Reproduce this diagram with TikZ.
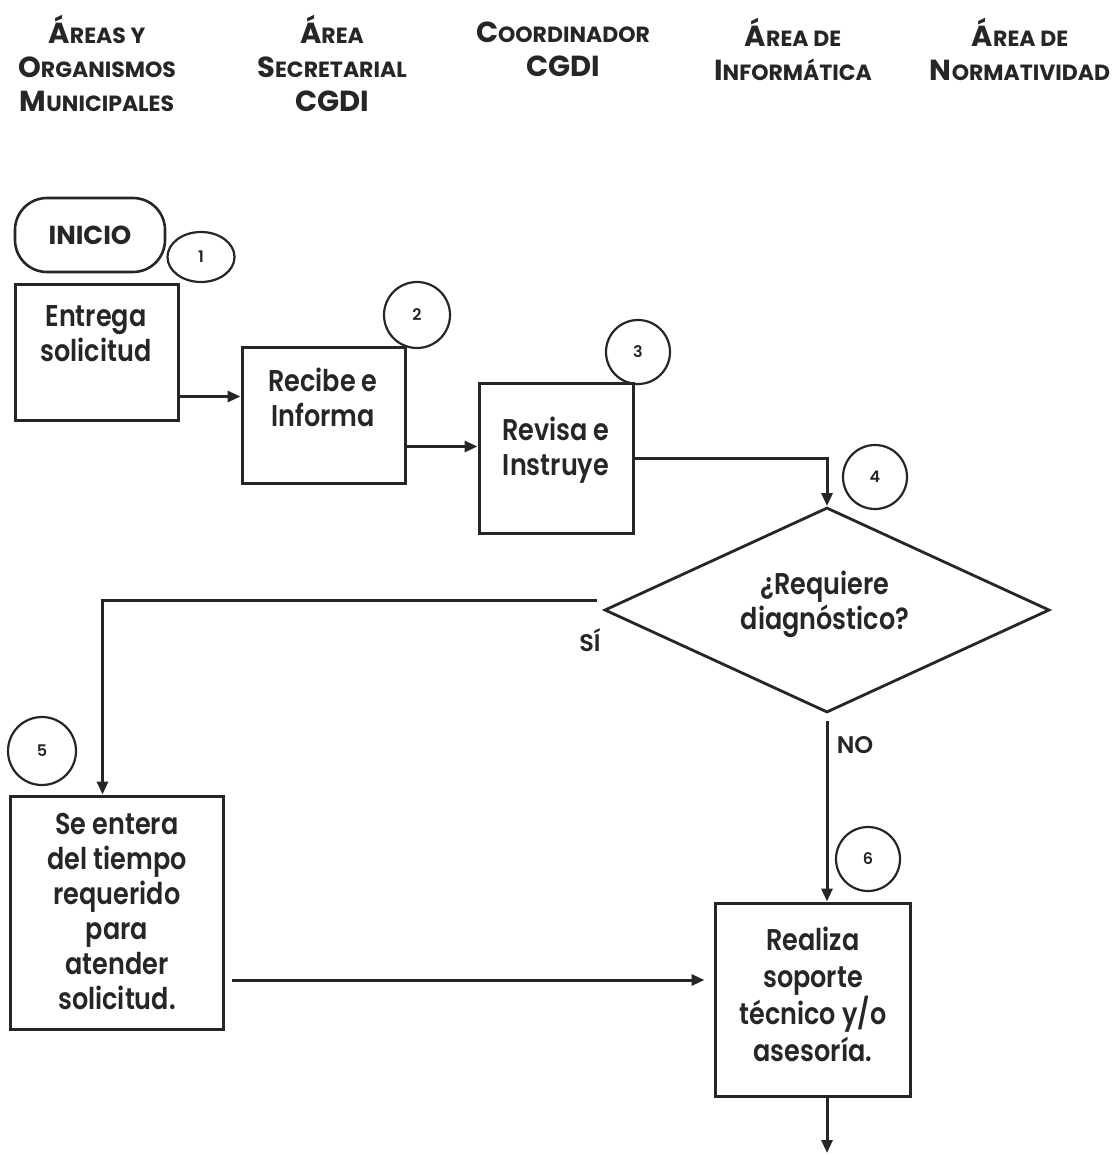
\documentclass[tikz,border=0pt]{standalone}
\usepackage{fontspec}
\setmainfont{Poppins}[BoldFont={Poppins SemiBold}]
\newfontfamily\bodyfont{Poppins}[BoldFont={Poppins SemiBold},FakeStretch=0.85]
\newfontfamily\heavyfont{Poppins Bold}
\usetikzlibrary{arrows.meta,shapes.geometric,calc}
\definecolor{ink}{HTML}{262626}
% larger initial letters for the small-caps column titles
\newcommand\Bg[1]{{\fontsize{29}{34}\selectfont #1}}

\begin{document}
\begin{tikzpicture}[x=1pt,y=-1pt,
  every node/.style={text=ink},
  box/.style={draw=ink,line width=3pt,inner sep=0pt},
  txt/.style={font=\bodyfont\fontsize{30}{35}\selectfont\bfseries,align=center,inner sep=0pt},
  num/.style={circle,draw=ink,line width=2.2pt,minimum size=66pt,inner sep=0pt,
              font=\fontsize{16}{16}\selectfont\bfseries},
  head/.style={font=\heavyfont\fontsize{22}{34}\selectfont,align=center,inner sep=0pt},
  lbl/.style={font=\fontsize{24}{24}\selectfont\bfseries,inner sep=0pt},
  conn/.style={draw=ink,line width=3pt},
  arr/.style={conn,-{Triangle[length=13pt,width=11pt]}}]

\fill[white] (0,0) rectangle (1112,1155);
\useasboundingbox (0,0) rectangle (1112,1155);

% column titles
\node[head] (h1) at (97,63)   {\Bg{Á}REAS Y\\\Bg{O}RGANISMOS\\\Bg{M}UNICIPALES};
\node[head] (h2) at (332,63)  {\Bg{Á}REA\\\Bg{S}ECRETARIAL\\\Bg{CGDI}};
\node[head] (h3) at (563,49)  {\Bg{C}OORDINADOR\\\Bg{CGDI}};
\node[head] (h4) at (793,49)  {\Bg{Á}REA DE\\\Bg{I}NFORMÁTICA};
\node[head] (h5) at (1020,49) {\Bg{Á}REA DE\\\Bg{N}ORMATIVIDAD};

% start terminal
\node[draw=ink,line width=2.6pt,rounded corners=32pt,minimum width=150pt,minimum height=74pt,
      inner sep=0pt,font=\heavyfont\fontsize{26}{26}\selectfont] (inicio) at (90,235) {INICIO};

% process boxes
\node[box,minimum width=163pt,minimum height=135pt] (entrega) at (96.5,352.5) {};
\node[txt] (entregaT) at (96,334) {Entrega\\solicitud};

\node[box,minimum width=163pt,minimum height=136pt] (recibe) at (323.5,415) {};
\node[txt] (recibeT) at (323,397) {Recibe e\\Informa};

\node[box,minimum width=154pt,minimum height=150pt] (revisa) at (556,458) {};
\node[txt] (revisaT) at (556,450) {Revisa e\\Instruye};

\node[diamond,draw=ink,line width=2.8pt,minimum width=445pt,minimum height=205pt,inner sep=0pt] (dia) at (827,610) {};
\node[txt] (diaT) at (825,604) {¿Requiere\\diagnóstico?};

\node[box,minimum width=213pt,minimum height=233pt] (entera) at (116.5,912.5) {};
\node[txt] (enteraT) at (117,912) {Se entera\\del tiempo\\requerido\\para\\atender\\solicitud.};

\node[box,minimum width=195pt,minimum height=193pt] (realiza) at (812.5,999.5) {};
\node[txt,font=\bodyfont\fontsize{30}{37}\selectfont\bfseries] (realizaT) at (813,994) {Realiza\\soporte\\técnico y/o\\asesoría.};

% step numbers
\node[ellipse,draw=ink,line width=2.2pt,minimum width=67pt,minimum height=50pt,inner sep=0pt,
      font=\fontsize{16}{16}\selectfont\bfseries] (n1) at (201,257) {1};
\node[num] (n2) at (417,315) {2};
\node[num,minimum size=64pt] (n3) at (638,352) {3};
\node[num,minimum size=64pt] (n4) at (875,477) {4};
\node[num,minimum size=68pt] (n5) at (42,751) {5};
\node[num,minimum size=64pt] (n6) at (868,859) {6};

% branch labels
\node[lbl] (si) at (590,640) {SÍ};
\node[lbl] (no) at (855,745) {NO};

% connectors
\draw[arr] ($(entrega.south east)+(0,-25)$) -- ($(recibe.west |- entrega.south east)+(0,-25)$);
\draw[arr] ($(recibe.south east)+(0,-38)$) -- ($(revisa.west |- recibe.south east)+(0,-38)$);
\draw[arr] (revisa.east) -| (dia.north);
\draw[arr] ($(dia.west)+(-6,-10)$) -| ($(entera.north)+(-14,0)$);
\draw[arr] ($(dia.south)+(0,7)$) -- (dia.south |- realiza.north);
\draw[arr] ($(entera.east)+(7,67.5)$) -- ($(realiza.west |- entera.east)+(-9,67.5)$);
\coordinate (out) at (827,1153);
\draw[arr] (dia.south |- realiza.south) -- (out);
\end{tikzpicture}
\end{document}
